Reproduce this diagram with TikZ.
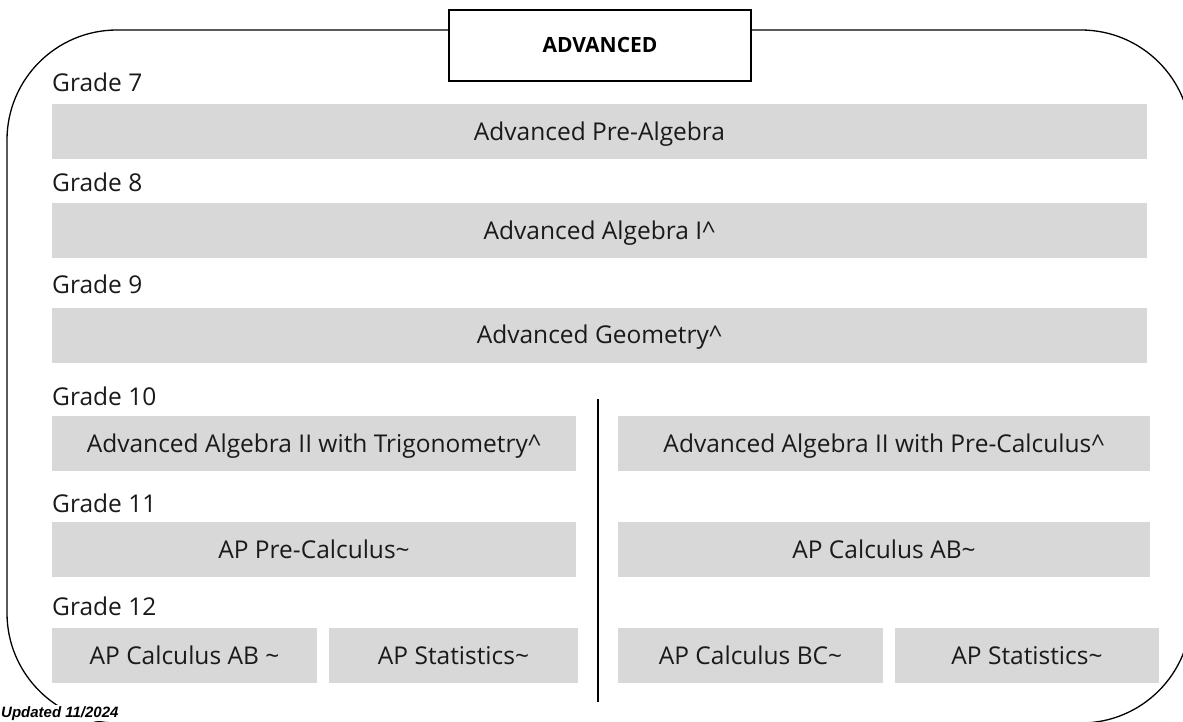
\documentclass[tikz,border=0pt]{standalone}
\usepackage{fontspec}
\setmainfont{Open Sans}
\newfontfamily\stampfont{Liberation Sans}
\usetikzlibrary{positioning}
\definecolor{bargray}{HTML}{D8D8D8}
\definecolor{inkgray}{HTML}{1A1A1A}

\begin{document}
\begin{tikzpicture}[x=1pt,y=-1pt,
  bar/.style={fill=bargray,inner sep=0pt,minimum height=55pt,text height=17.5pt,text depth=0pt,text=inkgray,font=\fontsize{24.5}{29}\selectfont},
  grade/.style={anchor=base west,inner sep=0pt,text=inkgray,font=\fontsize{24.5}{29}\selectfont}]
\useasboundingbox (0,0) rectangle (1183,722);
\draw[line width=1.3pt,rounded corners=110pt] (7,30) rectangle (1191,723);
\node[draw,fill=white,line width=1.5pt,minimum width=302pt,minimum height=71pt,text height=14.6pt,text depth=0pt,font=\fontsize{21}{25}\selectfont\bfseries] (title) at (600,45.5) {ADVANCED};
\node[grade] (g7) at (52,92) {Grade 7};
\node[bar,minimum width=1095pt] (c7) at (599.5,131.5) {Advanced Pre-Algebra};
\node[grade] (g8) at (52,192) {Grade 8};
\node[bar,minimum width=1095pt] (c8) at (599.5,230.5) {Advanced Algebra I\^{}};
\node[grade] (g9) at (52,293) {Grade 9};
\node[bar,minimum width=1095pt] (c9) at (599.5,335) {Advanced Geometry\^{}};
\node[grade] (g10) at (52,405) {Grade 10};
\node[bar,minimum width=524pt] (c10a) at (314,443.5) {Advanced Algebra II with Trigonometry\^{}};
\node[bar,minimum width=532pt] (c10b) at (884,443.5) {Advanced Algebra II with Pre-Calculus\^{}};
\node[grade] (g11) at (52,512) {Grade 11};
\node[bar,minimum width=524pt] (c11a) at (314,549.5) {AP Pre-Calculus\textasciitilde};
\node[bar,minimum width=532pt] (c11b) at (884,549.5) {AP Calculus AB\textasciitilde};
\node[grade] (g12) at (52,615) {Grade 12};
\node[bar,minimum width=265pt] (c12a) at (184.5,655.5) {AP Calculus AB \textasciitilde};
\node[bar,minimum width=249pt] (c12b) at (453.5,655.5) {AP Statistics\textasciitilde};
\node[bar,minimum width=265pt] (c12c) at (750.5,655.5) {AP Calculus BC\textasciitilde};
\node[bar,minimum width=264pt] (c12d) at (1027,655.5) {AP Statistics\textasciitilde};
\draw[line width=2pt] (598,399) -- (598,702);
\node[anchor=base west,fill=white,inner sep=1pt,font=\stampfont\fontsize{15}{18}\selectfont\bfseries\itshape] (stamp) at (0,717) {Updated 11/2024};
\end{tikzpicture}
\end{document}
